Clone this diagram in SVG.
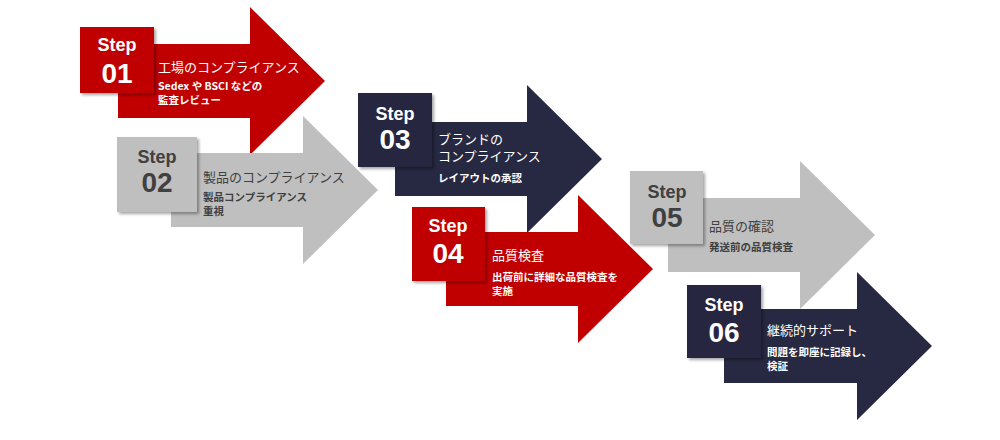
<svg xmlns="http://www.w3.org/2000/svg" width="1000" height="440" viewBox="0 0 1000 440">
<defs>
<filter id="sh" x="-20%" y="-20%" width="150%" height="150%">
<feDropShadow dx="2" dy="2" stdDeviation="1.5" flood-color="#000" flood-opacity="0.35"/>
</filter>
<style>
.red{fill:#C00000}
.navy{fill:#272841}
.gray{fill:#BFBFBF}
.box{filter:url(#sh)}
.step{font-family:"Liberation Sans",Arial,sans-serif;font-weight:bold;font-size:18px;text-anchor:middle}
.num{font-family:"Liberation Sans",Arial,sans-serif;font-weight:bold;font-size:28px;text-anchor:middle}
.title{font-family:"Noto Sans CJK JP","Noto Sans",sans-serif;font-size:13px}
.sub{font-family:"Noto Sans CJK JP","Noto Sans",sans-serif;font-size:10.5px;font-weight:bold}
.lt{fill:#FFFFFF}
.dk{fill:#404040}
</style>
</defs>
<g id="connectors"></g>
<g id="step01">
<path class="red" d="M118,44 H250 V7 L325,81 L250,155 V118 H118 Z"/>
<rect class="red box" x="80" y="27" width="74" height="66"/>
<text class="step lt" x="117" y="51">Step</text>
<text class="num lt" x="117" y="83">01</text>
<text class="title lt" x="158" y="72">工場のコンプライアンス</text>
<text class="sub lt" x="158" y="90">Sedex や BSCI などの</text>
<text class="sub lt" x="158" y="104">監査レビュー</text>
</g>
<g id="step02">
<path class="gray" d="M171,153 H303 V116 L378,190 L303,264 V227 H171 Z"/>
<rect class="gray box" x="117" y="137" width="80" height="75"/>
<text class="step dk" x="157" y="163">Step</text>
<text class="num dk" x="157" y="192">02</text>
<text class="title dk" x="203" y="182">製品のコンプライアンス</text>
<text class="sub dk" x="203" y="201">製品コンプライアンス</text>
<text class="sub dk" x="203" y="215">重視</text>
</g>
<g id="step03">
<path class="navy" d="M395,122 H527 V85 L602,159 L527,233 V196 H395 Z"/>
<rect class="navy box" x="358" y="93" width="74" height="74"/>
<text class="step lt" x="395" y="120">Step</text>
<text class="num lt" x="395" y="149">03</text>
<text class="title lt" x="438" y="144">ブランドの</text>
<text class="title lt" x="438" y="161">コンプライアンス</text>
<text class="sub lt" x="438" y="182">レイアウトの承認</text>
</g>
<g id="step04">
<path class="red" d="M446,232 H578 V195 L653,269 L578,343 V306 H446 Z"/>
<rect class="red box" x="412" y="207" width="73" height="74"/>
<text class="step lt" x="448" y="232">Step</text>
<text class="num lt" x="448" y="263">04</text>
<text class="title lt" x="492" y="260">品質検査</text>
<text class="sub lt" x="492" y="281">出荷前に詳細な品質検査を</text>
<text class="sub lt" x="492" y="295">実施</text>
</g>
<g id="step05">
<path class="gray" d="M668,198 H800 V161 L875,235 L800,309 V272 H668 Z"/>
<rect class="gray box" x="630" y="171" width="73" height="73"/>
<text class="step dk" x="667" y="198">Step</text>
<text class="num dk" x="667" y="227">05</text>
<text class="title dk" x="709" y="231">品質の確認</text>
<text class="sub dk" x="709" y="251">発送前の品質検査</text>
</g>
<g id="step06">
<path class="navy" d="M724,309 H857 V272 L932,346 L857,420 V383 H724 Z"/>
<rect class="navy box" x="687" y="285" width="74" height="73"/>
<text class="step lt" x="724" y="311">Step</text>
<text class="num lt" x="724" y="342">06</text>
<text class="title lt" x="767" y="335">継続的サポート</text>
<text class="sub lt" x="767" y="356">問題を即座に記録し、</text>
<text class="sub lt" x="767" y="370">検証</text>
</g>
</svg>
